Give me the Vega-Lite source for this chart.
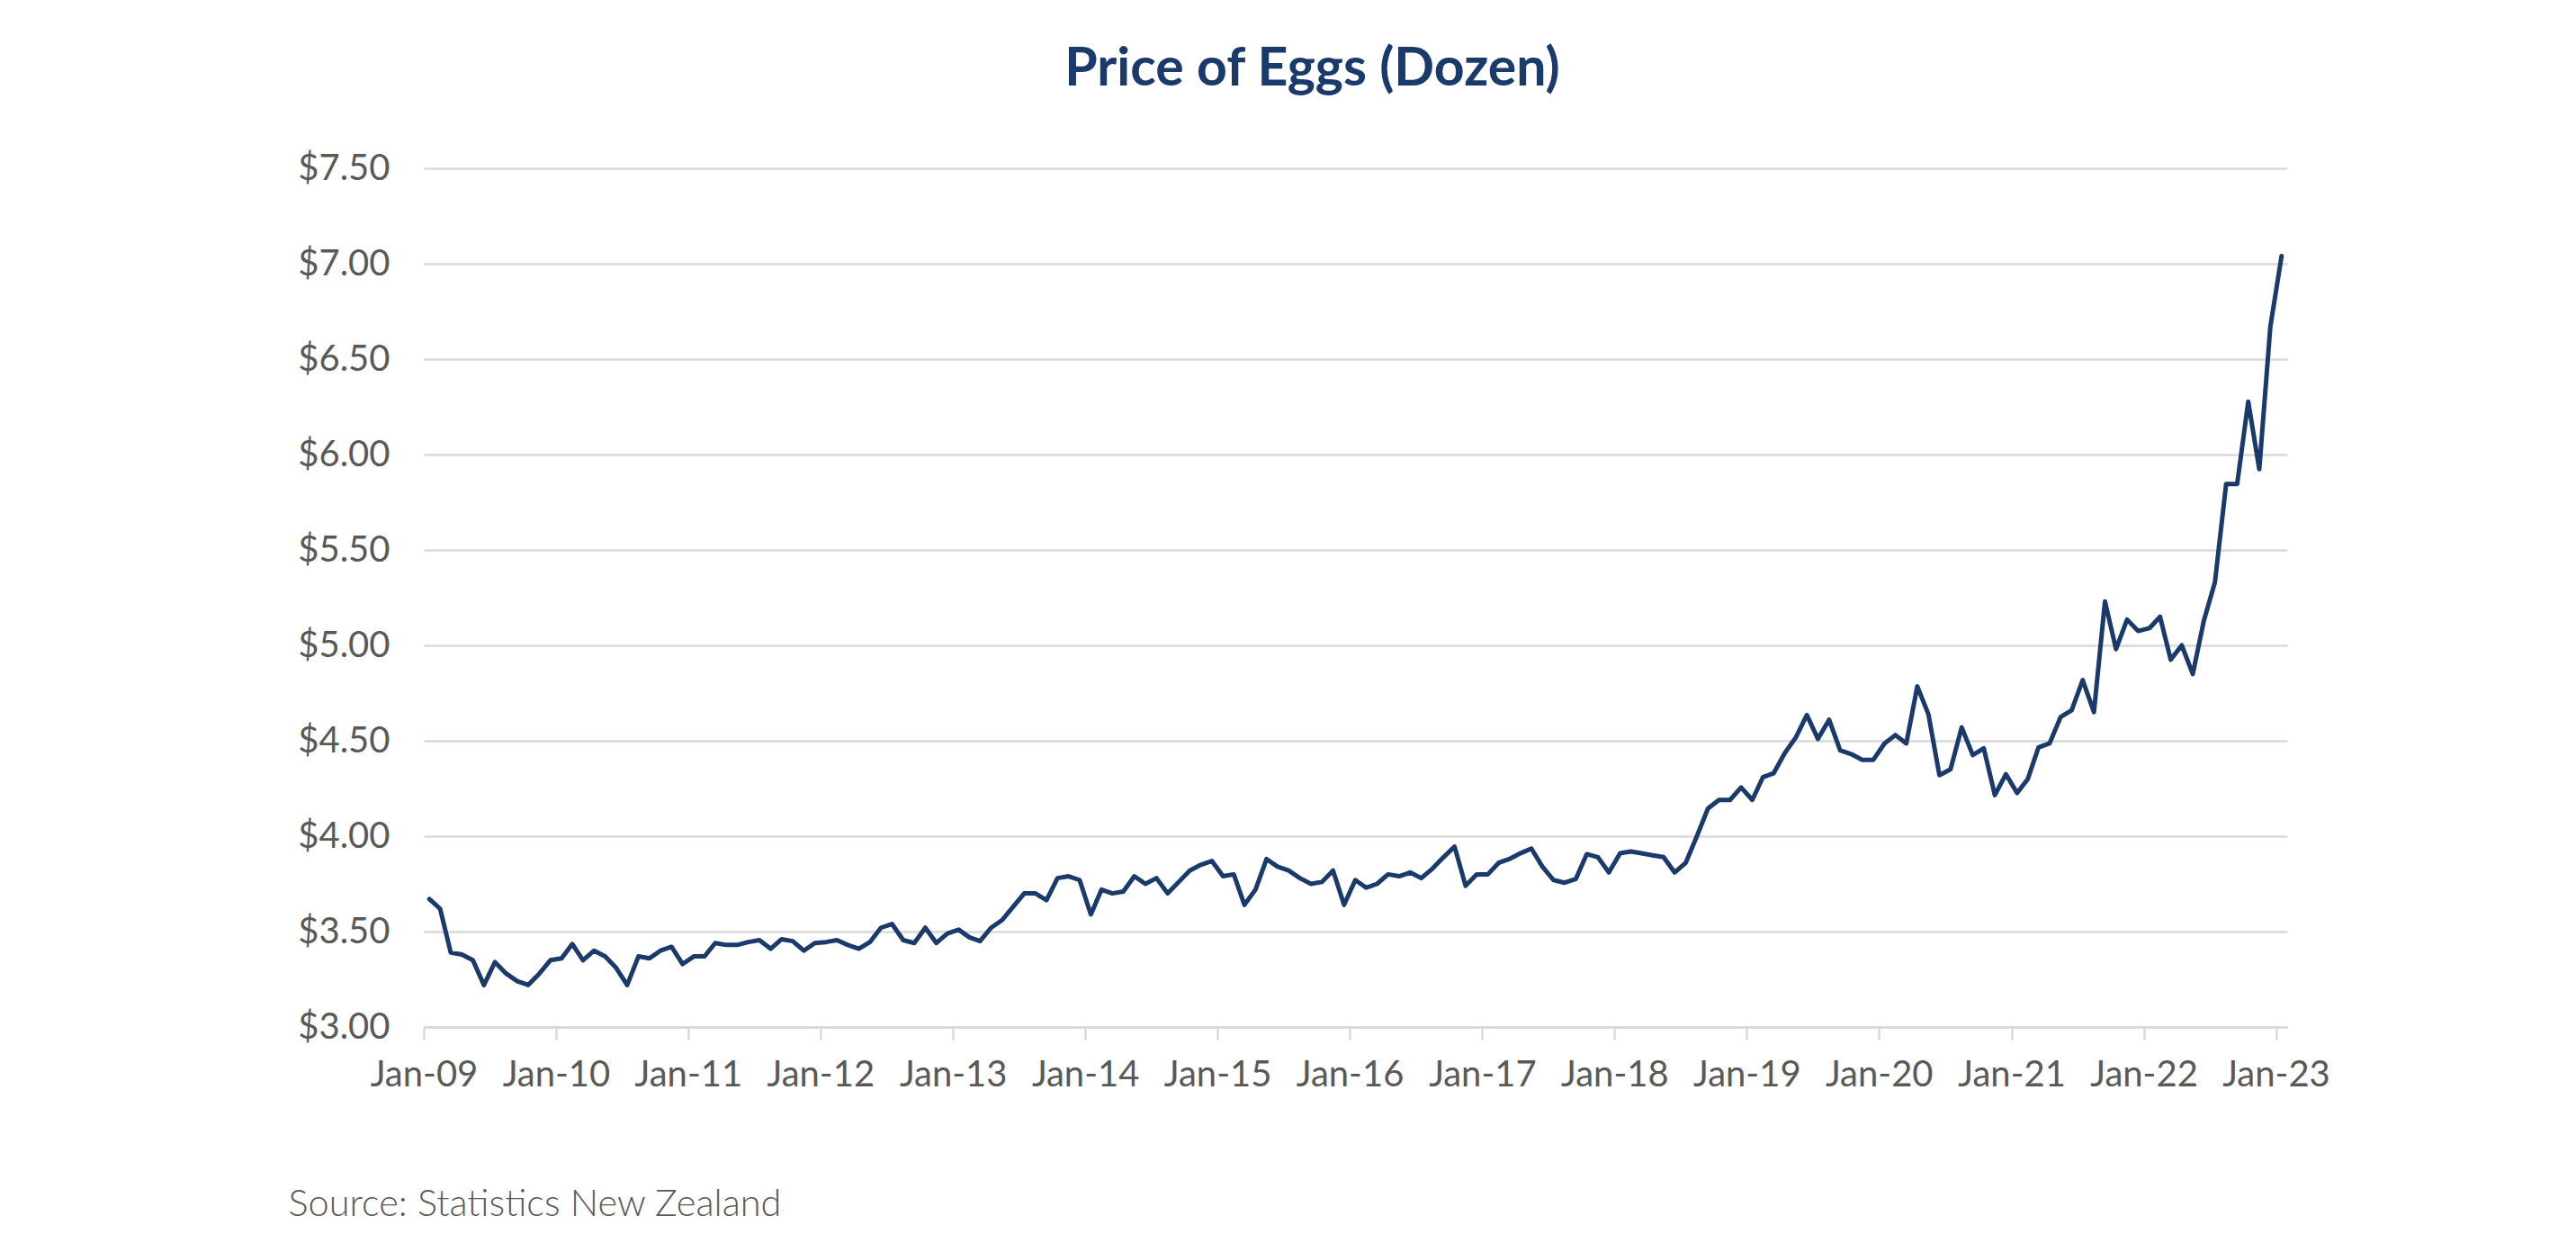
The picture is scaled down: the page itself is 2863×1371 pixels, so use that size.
{
  "$schema": "https://vega.github.io/schema/vega-lite/v6.json",
  "autosize": {"type": "none"},
  "padding": {"left": 471, "top": 187, "right": 321, "bottom": 230},
  "width": 2071,
  "height": 954,
  "background": "white",
  "title": {
    "text": "Price of Eggs (Dozen)",
    "font": "Lato",
    "fontSize": 59,
    "fontWeight": "bold",
    "color": "#1a3a6c",
    "anchor": "middle",
    "frame": "group",
    "dx": -48,
    "offset": 60
  },
  "config": {
    "view": {"stroke": null},
    "axis": {"labelFont": "Lato", "titleFont": "Lato"}
  },
  "data": {
    "values": [
      {"month": "2009-01", "price": 3.67}, {"month": "2009-02", "price": 3.62}, {"month": "2009-03", "price": 3.39}, {"month": "2009-04", "price": 3.38},
      {"month": "2009-05", "price": 3.35}, {"month": "2009-06", "price": 3.22}, {"month": "2009-07", "price": 3.34}, {"month": "2009-08", "price": 3.28},
      {"month": "2009-09", "price": 3.24}, {"month": "2009-10", "price": 3.22}, {"month": "2009-11", "price": 3.28}, {"month": "2009-12", "price": 3.35},
      {"month": "2010-01", "price": 3.36}, {"month": "2010-02", "price": 3.435}, {"month": "2010-03", "price": 3.35}, {"month": "2010-04", "price": 3.40},
      {"month": "2010-05", "price": 3.37}, {"month": "2010-06", "price": 3.31}, {"month": "2010-07", "price": 3.22}, {"month": "2010-08", "price": 3.37},
      {"month": "2010-09", "price": 3.36}, {"month": "2010-10", "price": 3.40}, {"month": "2010-11", "price": 3.42}, {"month": "2010-12", "price": 3.33},
      {"month": "2011-01", "price": 3.37}, {"month": "2011-02", "price": 3.37}, {"month": "2011-03", "price": 3.44}, {"month": "2011-04", "price": 3.43},
      {"month": "2011-05", "price": 3.43}, {"month": "2011-06", "price": 3.445}, {"month": "2011-07", "price": 3.455}, {"month": "2011-08", "price": 3.41},
      {"month": "2011-09", "price": 3.46}, {"month": "2011-10", "price": 3.45}, {"month": "2011-11", "price": 3.40}, {"month": "2011-12", "price": 3.44},
      {"month": "2012-01", "price": 3.445}, {"month": "2012-02", "price": 3.455}, {"month": "2012-03", "price": 3.43}, {"month": "2012-04", "price": 3.41},
      {"month": "2012-05", "price": 3.445}, {"month": "2012-06", "price": 3.52}, {"month": "2012-07", "price": 3.54}, {"month": "2012-08", "price": 3.455},
      {"month": "2012-09", "price": 3.44}, {"month": "2012-10", "price": 3.52}, {"month": "2012-11", "price": 3.44}, {"month": "2012-12", "price": 3.49},
      {"month": "2013-01", "price": 3.51}, {"month": "2013-02", "price": 3.47}, {"month": "2013-03", "price": 3.45}, {"month": "2013-04", "price": 3.52},
      {"month": "2013-05", "price": 3.56}, {"month": "2013-06", "price": 3.63}, {"month": "2013-07", "price": 3.70}, {"month": "2013-08", "price": 3.70},
      {"month": "2013-09", "price": 3.665}, {"month": "2013-10", "price": 3.78}, {"month": "2013-11", "price": 3.79}, {"month": "2013-12", "price": 3.77},
      {"month": "2014-01", "price": 3.59}, {"month": "2014-02", "price": 3.72}, {"month": "2014-03", "price": 3.70}, {"month": "2014-04", "price": 3.71},
      {"month": "2014-05", "price": 3.79}, {"month": "2014-06", "price": 3.75}, {"month": "2014-07", "price": 3.78}, {"month": "2014-08", "price": 3.70},
      {"month": "2014-09", "price": 3.76}, {"month": "2014-10", "price": 3.82}, {"month": "2014-11", "price": 3.85}, {"month": "2014-12", "price": 3.87},
      {"month": "2015-01", "price": 3.79}, {"month": "2015-02", "price": 3.80}, {"month": "2015-03", "price": 3.64}, {"month": "2015-04", "price": 3.72},
      {"month": "2015-05", "price": 3.88}, {"month": "2015-06", "price": 3.84}, {"month": "2015-07", "price": 3.82}, {"month": "2015-08", "price": 3.78},
      {"month": "2015-09", "price": 3.75}, {"month": "2015-10", "price": 3.76}, {"month": "2015-11", "price": 3.82}, {"month": "2015-12", "price": 3.64},
      {"month": "2016-01", "price": 3.77}, {"month": "2016-02", "price": 3.73}, {"month": "2016-03", "price": 3.75}, {"month": "2016-04", "price": 3.80},
      {"month": "2016-05", "price": 3.79}, {"month": "2016-06", "price": 3.81}, {"month": "2016-07", "price": 3.78}, {"month": "2016-08", "price": 3.83},
      {"month": "2016-09", "price": 3.89}, {"month": "2016-10", "price": 3.945}, {"month": "2016-11", "price": 3.74}, {"month": "2016-12", "price": 3.80},
      {"month": "2017-01", "price": 3.80}, {"month": "2017-02", "price": 3.86}, {"month": "2017-03", "price": 3.88}, {"month": "2017-04", "price": 3.91},
      {"month": "2017-05", "price": 3.935}, {"month": "2017-06", "price": 3.84}, {"month": "2017-07", "price": 3.77}, {"month": "2017-08", "price": 3.756},
      {"month": "2017-09", "price": 3.775}, {"month": "2017-10", "price": 3.906}, {"month": "2017-11", "price": 3.89}, {"month": "2017-12", "price": 3.81},
      {"month": "2018-01", "price": 3.91}, {"month": "2018-02", "price": 3.92}, {"month": "2018-03", "price": 3.91}, {"month": "2018-04", "price": 3.90},
      {"month": "2018-05", "price": 3.89}, {"month": "2018-06", "price": 3.81}, {"month": "2018-07", "price": 3.86}, {"month": "2018-08", "price": 4.00},
      {"month": "2018-09", "price": 4.145}, {"month": "2018-10", "price": 4.19}, {"month": "2018-11", "price": 4.19}, {"month": "2018-12", "price": 4.255},
      {"month": "2019-01", "price": 4.19}, {"month": "2019-02", "price": 4.31}, {"month": "2019-03", "price": 4.33}, {"month": "2019-04", "price": 4.435},
      {"month": "2019-05", "price": 4.517}, {"month": "2019-06", "price": 4.635}, {"month": "2019-07", "price": 4.51}, {"month": "2019-08", "price": 4.61},
      {"month": "2019-09", "price": 4.45}, {"month": "2019-10", "price": 4.43}, {"month": "2019-11", "price": 4.40}, {"month": "2019-12", "price": 4.40},
      {"month": "2020-01", "price": 4.486}, {"month": "2020-02", "price": 4.53}, {"month": "2020-03", "price": 4.486}, {"month": "2020-04", "price": 4.785},
      {"month": "2020-05", "price": 4.64}, {"month": "2020-06", "price": 4.32}, {"month": "2020-07", "price": 4.35}, {"month": "2020-08", "price": 4.57},
      {"month": "2020-09", "price": 4.425}, {"month": "2020-10", "price": 4.46}, {"month": "2020-11", "price": 4.215}, {"month": "2020-12", "price": 4.325},
      {"month": "2021-01", "price": 4.226}, {"month": "2021-02", "price": 4.30}, {"month": "2021-03", "price": 4.465}, {"month": "2021-04", "price": 4.486},
      {"month": "2021-05", "price": 4.624}, {"month": "2021-06", "price": 4.66}, {"month": "2021-07", "price": 4.818}, {"month": "2021-08", "price": 4.65},
      {"month": "2021-09", "price": 5.23}, {"month": "2021-10", "price": 4.98}, {"month": "2021-11", "price": 5.135}, {"month": "2021-12", "price": 5.075},
      {"month": "2022-01", "price": 5.09}, {"month": "2022-02", "price": 5.15}, {"month": "2022-03", "price": 4.925}, {"month": "2022-04", "price": 5.00},
      {"month": "2022-05", "price": 4.85}, {"month": "2022-06", "price": 5.13}, {"month": "2022-07", "price": 5.33}, {"month": "2022-08", "price": 5.846},
      {"month": "2022-09", "price": 5.846}, {"month": "2022-10", "price": 6.277}, {"month": "2022-11", "price": 5.923}, {"month": "2022-12", "price": 6.67},
      {"month": "2023-01", "price": 7.04}
    ]
  },
  "mark": {"type": "line", "color": "#1a3a6c", "strokeWidth": 5, "strokeJoin": "round", "strokeCap": "round"},
  "encoding": {
    "x": {
      "field": "month",
      "type": "temporal",
      "timeUnit": "utcyearmonth",
      "bandPosition": 0.5,
      "scale": {
        "type": "utc",
        "domain": [{"year": 2009, "month": 1, "date": 1, "utc": true}, {"year": 2023, "month": 2, "date": 1, "utc": true}]
      },
      "axis": {
        "values": [
          {"year": 2009, "month": 1, "date": 1, "utc": true}, {"year": 2010, "month": 1, "date": 1, "utc": true},
          {"year": 2011, "month": 1, "date": 1, "utc": true}, {"year": 2012, "month": 1, "date": 1, "utc": true},
          {"year": 2013, "month": 1, "date": 1, "utc": true}, {"year": 2014, "month": 1, "date": 1, "utc": true},
          {"year": 2015, "month": 1, "date": 1, "utc": true}, {"year": 2016, "month": 1, "date": 1, "utc": true},
          {"year": 2017, "month": 1, "date": 1, "utc": true}, {"year": 2018, "month": 1, "date": 1, "utc": true},
          {"year": 2019, "month": 1, "date": 1, "utc": true}, {"year": 2020, "month": 1, "date": 1, "utc": true},
          {"year": 2021, "month": 1, "date": 1, "utc": true}, {"year": 2022, "month": 1, "date": 1, "utc": true},
          {"year": 2023, "month": 1, "date": 1, "utc": true}
        ],
        "format": "%b-%y",
        "grid": false,
        "domainColor": "#d9d9d9",
        "domainWidth": 2.5,
        "tickColor": "#d9d9d9",
        "tickWidth": 2.5,
        "tickSize": 14,
        "labelFontSize": 40,
        "labelColor": "#595959",
        "labelPadding": 19,
        "labelFlush": false,
        "labelOverlap": false,
        "title": "Source: Statistics New Zealand",
        "titleFontSize": 41.5,
        "titleFontWeight": 300,
        "titleColor": "#595959",
        "titleAnchor": "start",
        "titleAlign": "left",
        "titleBaseline": "alphabetic",
        "titleX": -151,
        "titleY": 209
      }
    },
    "y": {
      "field": "price",
      "type": "quantitative",
      "scale": {"domain": [3, 7.5], "nice": false, "zero": false},
      "axis": {
        "values": [3, 3.5, 4, 4.5, 5, 5.5, 6, 6.5, 7, 7.5],
        "format": "$.2f",
        "domain": false,
        "ticks": false,
        "grid": true,
        "gridColor": "#d9d9d9",
        "gridWidth": 2.5,
        "labelFontSize": 40,
        "labelColor": "#595959",
        "labelPadding": 38,
        "title": null
      }
    }
  }
}
